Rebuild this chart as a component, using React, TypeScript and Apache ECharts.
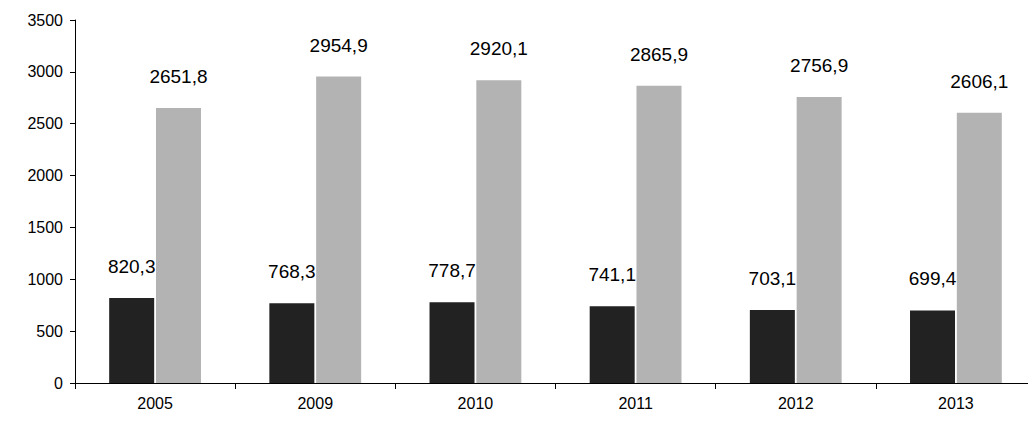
import React, { useEffect, useRef } from 'react';
import * as echarts from 'echarts';

const years = ['2005', '2009', '2010', '2011', '2012', '2013'];
const darkValues = [820.3, 768.3, 778.7, 741.1, 703.1, 699.4];
const greyValues = [2651.8, 2954.9, 2920.1, 2865.9, 2756.9, 2606.1];

const fmt = (p: any) => String(p.value.toFixed(1)).replace('.', ',');

const App: React.FC = () => {
  const ref = useRef<HTMLDivElement>(null);

  useEffect(() => {
    if (!ref.current) return undefined;
    const chart = echarts.init(ref.current, null, { renderer: 'svg' });
    const label = {
      show: true,
      position: 'top',
      distance: 22,
      formatter: fmt,
      color: '#000',
      fontSize: 19,
      fontFamily: 'Liberation Sans',
    };
    const axisFont = { color: '#000', fontSize: 16, fontFamily: 'Liberation Sans' };
    chart.setOption({
      animation: false,
      grid: { left: 67, right: 0, top: 12, bottom: 31 },
      xAxis: {
        type: 'category',
        data: years,
        axisLine: { lineStyle: { color: '#000' } },
        axisTick: { show: true, length: 6, lineStyle: { color: '#000' } },
        axisLabel: { ...axisFont, margin: 12 },
      },
      yAxis: {
        type: 'value',
        min: 0,
        max: 3500,
        interval: 500,
        axisLine: { show: true, lineStyle: { color: '#000' } },
        axisTick: { show: true, length: 5, lineStyle: { color: '#000' } },
        splitLine: { show: false },
        axisLabel: { ...axisFont, margin: 12, formatter: (v: number) => String(v) },
      },
      series: [
        {
          type: 'bar',
          data: darkValues,
          barWidth: 45,
          barGap: '4%',
          itemStyle: { color: '#222222' },
          label,
        },
        {
          type: 'bar',
          data: greyValues,
          barWidth: 45,
          itemStyle: { color: '#b3b3b3' },
          label,
        },
      ],
    });
    return () => chart.dispose();
  }, []);

  return <div ref={ref} style={{ width: 1028, height: 406 }} />;
};

export default App;
